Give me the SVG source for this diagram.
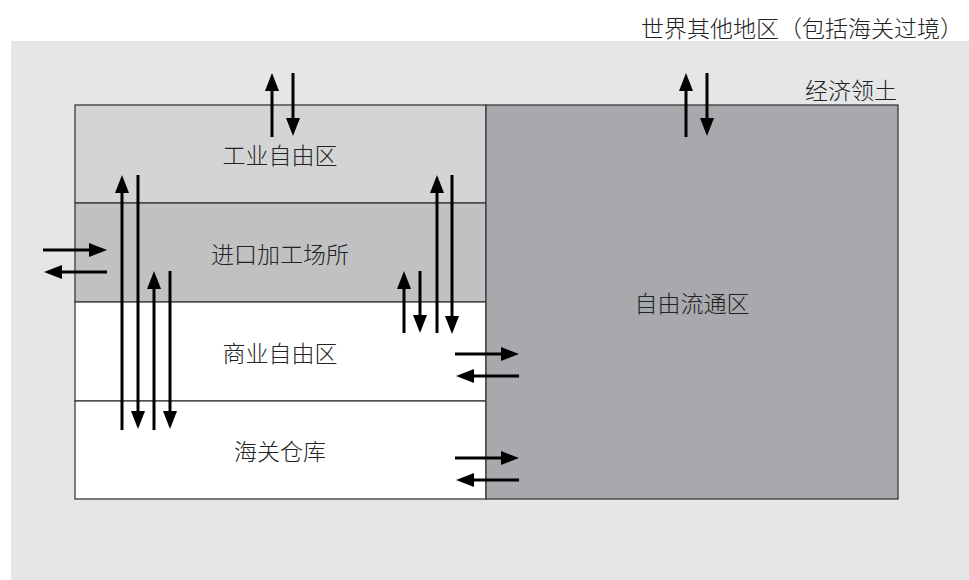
<svg xmlns="http://www.w3.org/2000/svg" width="969" height="580" viewBox="0 0 969 580">
<style>
.t{font-family:"Noto Sans CJK SC","Liberation Sans",sans-serif;font-size:23px;font-weight:300;fill:#222;}
.c{text-anchor:middle;dominant-baseline:central;}
.r{text-anchor:end;dominant-baseline:central;}
.box{stroke:#3a3a3a;stroke-width:1.3;}
.a{stroke:#000;stroke-width:3;fill:none;marker-end:url(#ah);}
</style>
<defs>
<marker id="ah" viewBox="0 0 18 14" refX="8" refY="7" markerWidth="18" markerHeight="14" markerUnits="userSpaceOnUse" orient="auto">
<path d="M0,0 L18,7 L0,14 z" fill="#000"/>
</marker>
</defs>
<rect x="0" y="0" width="969" height="580" fill="#fff"/>
<g id="world">
<rect x="11" y="41" width="958" height="539" fill="#e5e6e8"/>
<text class="t r" x="963" y="27">世界其他地区（包括海关过境）</text>
</g>
<g id="territory">
<text class="t r" x="897" y="89">经济领土</text>
</g>
<g id="industrial-free-zone">
<rect class="box" x="75" y="105" width="411" height="98" fill="#d3d4d6"/>
<text class="t c" x="280" y="154">工业自由区</text>
</g>
<g id="import-processing">
<rect class="box" x="75" y="203" width="411" height="99" fill="#c0c1c3"/>
<text class="t c" x="280" y="253">进口加工场所</text>
</g>
<g id="commercial-free-zone">
<rect class="box" x="75" y="302" width="411" height="99" fill="#ffffff"/>
<text class="t c" x="280" y="352">商业自由区</text>
</g>
<g id="customs-warehouse">
<rect class="box" x="75" y="401" width="411" height="98" fill="#ffffff"/>
<text class="t c" x="280" y="450">海关仓库</text>
</g>
<g id="free-circulation">
<rect class="box" x="486" y="105" width="412" height="394" fill="#a8a9ac"/>
<text class="t c" x="692" y="302">自由流通区</text>
</g>
<g id="connectors">
<line class="a" x1="272" y1="137" x2="272" y2="83"/>
<line class="a" x1="293" y1="73" x2="293" y2="126"/>
<line class="a" x1="686" y1="137" x2="686" y2="83"/>
<line class="a" x1="707" y1="73" x2="707" y2="126"/>
<line class="a" x1="122" y1="430" x2="122" y2="185"/>
<line class="a" x1="138" y1="175" x2="138" y2="419"/>
<line class="a" x1="154" y1="430" x2="154" y2="281"/>
<line class="a" x1="170" y1="271" x2="170" y2="419"/>
<line class="a" x1="43" y1="250" x2="97" y2="250"/>
<line class="a" x1="107" y1="272" x2="54" y2="272"/>
<line class="a" x1="437" y1="333" x2="437" y2="185"/>
<line class="a" x1="452" y1="175" x2="452" y2="324"/>
<line class="a" x1="404" y1="333" x2="404" y2="281"/>
<line class="a" x1="420" y1="271" x2="420" y2="323"/>
<line class="a" x1="455" y1="354" x2="509" y2="354"/>
<line class="a" x1="519" y1="376" x2="466" y2="376"/>
<line class="a" x1="455" y1="458" x2="509" y2="458"/>
<line class="a" x1="519" y1="480" x2="466" y2="480"/>
</g>
</svg>
